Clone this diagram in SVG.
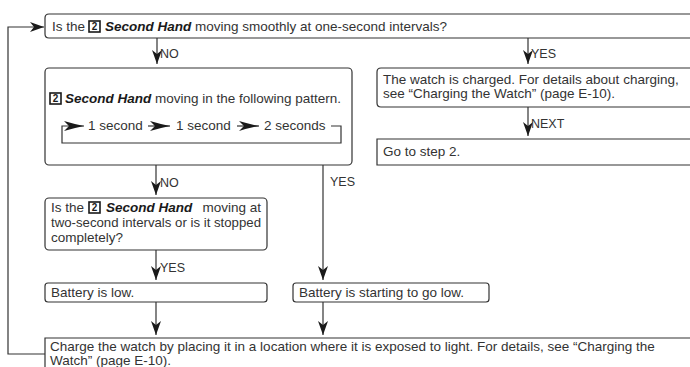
<svg xmlns="http://www.w3.org/2000/svg" width="690" height="367" viewBox="0 0 690 367">
<defs>
<marker id="ah" viewBox="0 0 14 10" markerWidth="14" markerHeight="10" refX="14" refY="5" orient="auto" markerUnits="userSpaceOnUse">
<path d="M0,0 L14,5 L0,10 L4,5 z" fill="#1a1a1a"/>
</marker>
<marker id="ah2" viewBox="0 0 20 10" markerWidth="20" markerHeight="10" refX="20" refY="5" orient="auto" markerUnits="userSpaceOnUse">
<path d="M0,0 Q10,3 20,5 Q10,7 0,10 L5,5 z" fill="#1a1a1a"/>
</marker>
<g id="icon2">
<rect x="0" y="-10" width="11" height="11" fill="#fff" stroke="#1a1a1a" stroke-width="1.6"/>
<text x="5.5" y="-0.8" text-anchor="middle" style="font-family:'Liberation Sans',Arial,sans-serif;font-size:10px;font-weight:bold;fill:#1a1a1a">2</text>
</g>
</defs>
<style>
.box{fill:#fff;stroke:#333;stroke-width:1.2}
.t{font-family:'Liberation Sans',Arial,sans-serif;font-size:13.5px;fill:#333}
.b{font-family:'Liberation Sans',Arial,sans-serif;font-size:13.5px;font-weight:bold;font-style:italic;fill:#1a1a1a}
.l{font-family:'Liberation Sans',Arial,sans-serif;font-size:12.5px;fill:#333}
.c{fill:none;stroke:#333;stroke-width:1.2}
</style>
<g id="connectors">
<polyline class="c" points="45,354 8,354 8,27 44,27" marker-end="url(#ah)"/>
<line class="c" x1="157" y1="38" x2="157" y2="64" marker-end="url(#ah)"/>
<text class="l" x="160" y="58">NO</text>
<line class="c" x1="528" y1="38" x2="528" y2="64" marker-end="url(#ah)"/>
<text class="l" x="531" y="58">YES</text>
<line class="c" x1="528" y1="107" x2="528" y2="136" marker-end="url(#ah)"/>
<text class="l" x="531" y="128">NEXT</text>
<line class="c" x1="156" y1="165" x2="156" y2="195" marker-end="url(#ah)"/>
<text class="l" x="160" y="187">NO</text>
<line class="c" x1="323" y1="165" x2="323" y2="280" marker-end="url(#ah)"/>
<text class="l" x="330" y="186">YES</text>
<line class="c" x1="156" y1="250" x2="156" y2="280" marker-end="url(#ah)"/>
<text class="l" x="160" y="272">YES</text>
<line class="c" x1="156" y1="302" x2="156" y2="335" marker-end="url(#ah)"/>
<line class="c" x1="323" y1="302" x2="323" y2="335" marker-end="url(#ah)"/>
</g>
<g id="n-top">
<path class="box" d="M700,14 H49 Q45,14 45,18 V34 Q45,38 49,38 H700"/>
<text class="t" x="52" y="31">Is the</text>
<use href="#icon2" x="89" y="31"/>
<text class="b" x="105" y="31">Second Hand</text>
<text class="t" x="195" y="31">moving smoothly at one-second intervals?</text>
</g>
<g id="n-pattern">
<rect class="box" x="45" y="68" width="307" height="97" rx="4"/>
<use href="#icon2" x="50" y="103"/>
<text class="b" x="65" y="103">Second Hand</text>
<text class="t" x="155" y="103">moving in the following pattern.</text>
<polyline class="c" points="331,126 341,126 341,143 62,143 62,126 84,126" marker-end="url(#ah2)"/>
<text class="t" x="88" y="130">1 second</text>
<line class="c" x1="148" y1="126" x2="170" y2="126" marker-end="url(#ah2)"/>
<text class="t" x="176" y="130">1 second</text>
<line class="c" x1="237" y1="126" x2="259" y2="126" marker-end="url(#ah2)"/>
<text class="t" x="264" y="130">2 seconds</text>
</g>
<g id="n-charged">
<path class="box" d="M700,68 H381 Q377,68 377,72 V103 Q377,107 381,107 H700"/>
<text class="t" x="383" y="84">The watch is charged. For details about charging,</text>
<text class="t" x="383" y="98">see “Charging the Watch” (page E-10).</text>
</g>
<g id="n-step2">
<path class="box" d="M700,139 H377 V165 H700"/>
<text class="t" x="383" y="156">Go to step 2.</text>
</g>
<g id="n-question">
<rect class="box" x="45" y="198" width="222" height="52" rx="4"/>
<text class="t" x="51" y="212">Is the</text>
<use href="#icon2" x="89" y="212"/>
<text class="b" x="106" y="212">Second Hand</text>
<text class="t" x="261" y="212" text-anchor="end">moving at</text>
<text class="t" x="51" y="227" textLength="210" lengthAdjust="spacingAndGlyphs">two-second intervals or is it stopped</text>
<text class="t" x="51" y="242">completely?</text>
</g>
<g id="n-low">
<rect class="box" x="45" y="283" width="222" height="19" rx="3"/>
<text class="t" x="51" y="297">Battery is low.</text>
</g>
<g id="n-going-low">
<rect class="box" x="293" y="283" width="196" height="19" rx="3"/>
<text class="t" x="299" y="297">Battery is starting to go low.</text>
</g>
<g id="n-charge">
<path class="box" d="M700,338 H45 V380"/>
<text class="t" x="50" y="351">Charge the watch by placing it in a location where it is exposed to light. For details, see “Charging the</text>
<text class="t" x="50" y="365">Watch” (page E-10).</text>
</g>
</svg>
